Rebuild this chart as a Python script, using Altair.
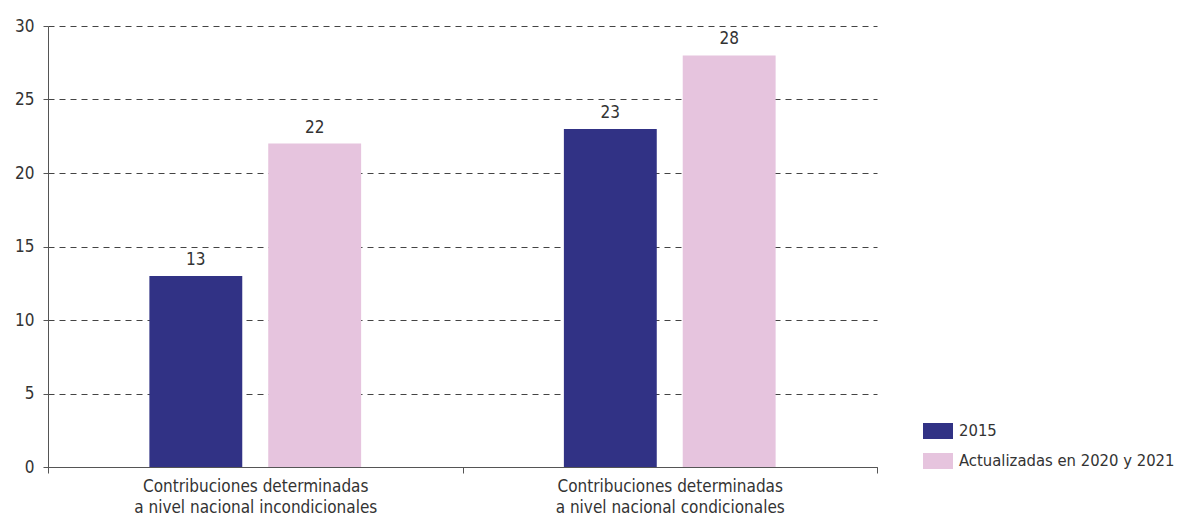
import altair as alt
import pandas as pd

categories = [
    "Contribuciones determinadas|a nivel nacional incondicionales",
    "Contribuciones determinadas|a nivel nacional condicionales",
]
series = ["2015", "Actualizadas en 2020 y 2021"]
values_2015 = [13, 23]
values_updated = [22, 28]
colors = ["#313285", "#E6C4DE"]

rows = []
for i, c in enumerate(categories):
    rows.append({"cat": c, "serie": series[0], "value": values_2015[i]})
    rows.append({"cat": c, "serie": series[1], "value": values_updated[i]})
df = pd.DataFrame(rows)

FONT = "DejaVu Sans Condensed, Roboto, sans-serif"
W, H = 829, 441

x = alt.X(
    "cat:N",
    sort=categories,
    title=None,
    scale=alt.Scale(paddingInner=0, paddingOuter=0),
    axis=alt.Axis(
        labelAngle=0,
        labelExpr="split(datum.label, '|')",
        tickBand="extent",
        tickSize=6,
        tickColor="#555555",
        domainColor="#555555",
        labelPadding=5,
        labelFontSize=17,
        labelLineHeight=21,
        labelLimit=0,
        labelColor="#333333",
        labelFont=FONT,
        grid=False,
    ),
)
xoff = alt.XOffset(
    "serie:N",
    sort=series,
    scale=alt.Scale(paddingInner=0.2185, paddingOuter=0.853),
)
y = alt.Y(
    "value:Q",
    title=None,
    scale=alt.Scale(domain=[0, 30], nice=False),
    axis=alt.Axis(
        values=[0, 5, 10, 15, 20, 25, 30],
        tickSize=5,
        tickColor="#555555",
        domainColor="#555555",
        labelPadding=9,
        labelFontSize=17,
        labelColor="#333333",
        labelFont=FONT,
        grid=True,
        gridColor="#444444",
        gridDash=[6, 5],
        gridWidth=1,
    ),
)

bars = alt.Chart(df).mark_bar().encode(
    x=x,
    xOffset=xoff,
    y=y,
    color=alt.Color(
        "serie:N",
        sort=series,
        scale=alt.Scale(domain=series, range=colors),
        legend=alt.Legend(
            title=None,
            orient="none",
            legendX=875,
            legendY=390,
            symbolType="M-1,-0.533H1V0.533H-1Z",
            symbolSize=900,
            symbolStrokeWidth=0,
            symbolOpacity=1,
            labelFontSize=16.5,
            labelFont=FONT,
            labelColor="#333333",
            labelOffset=6,
            labelLimit=0,
            rowPadding=6,
        ),
    ),
)

labels = alt.Chart(df).mark_text(
    baseline="alphabetic", dy=-11, fontSize=17, font=FONT, color="#333333"
).encode(
    x=alt.X("cat:N", sort=categories),
    xOffset=alt.XOffset("serie:N", sort=series),
    y="value:Q",
    text="value:Q",
)

chart = (
    alt.layer(bars, labels)
    .properties(
        width=W,
        height=H,
        background="white",
        autosize=alt.AutoSizeParams(type="none"),
        padding={"left": 40, "top": 18, "right": 301, "bottom": 51},
    )
    .configure_view(stroke="transparent", strokeWidth=0)
)

chart.save("out.html", embed_options={"renderer": "svg", "actions": False})
